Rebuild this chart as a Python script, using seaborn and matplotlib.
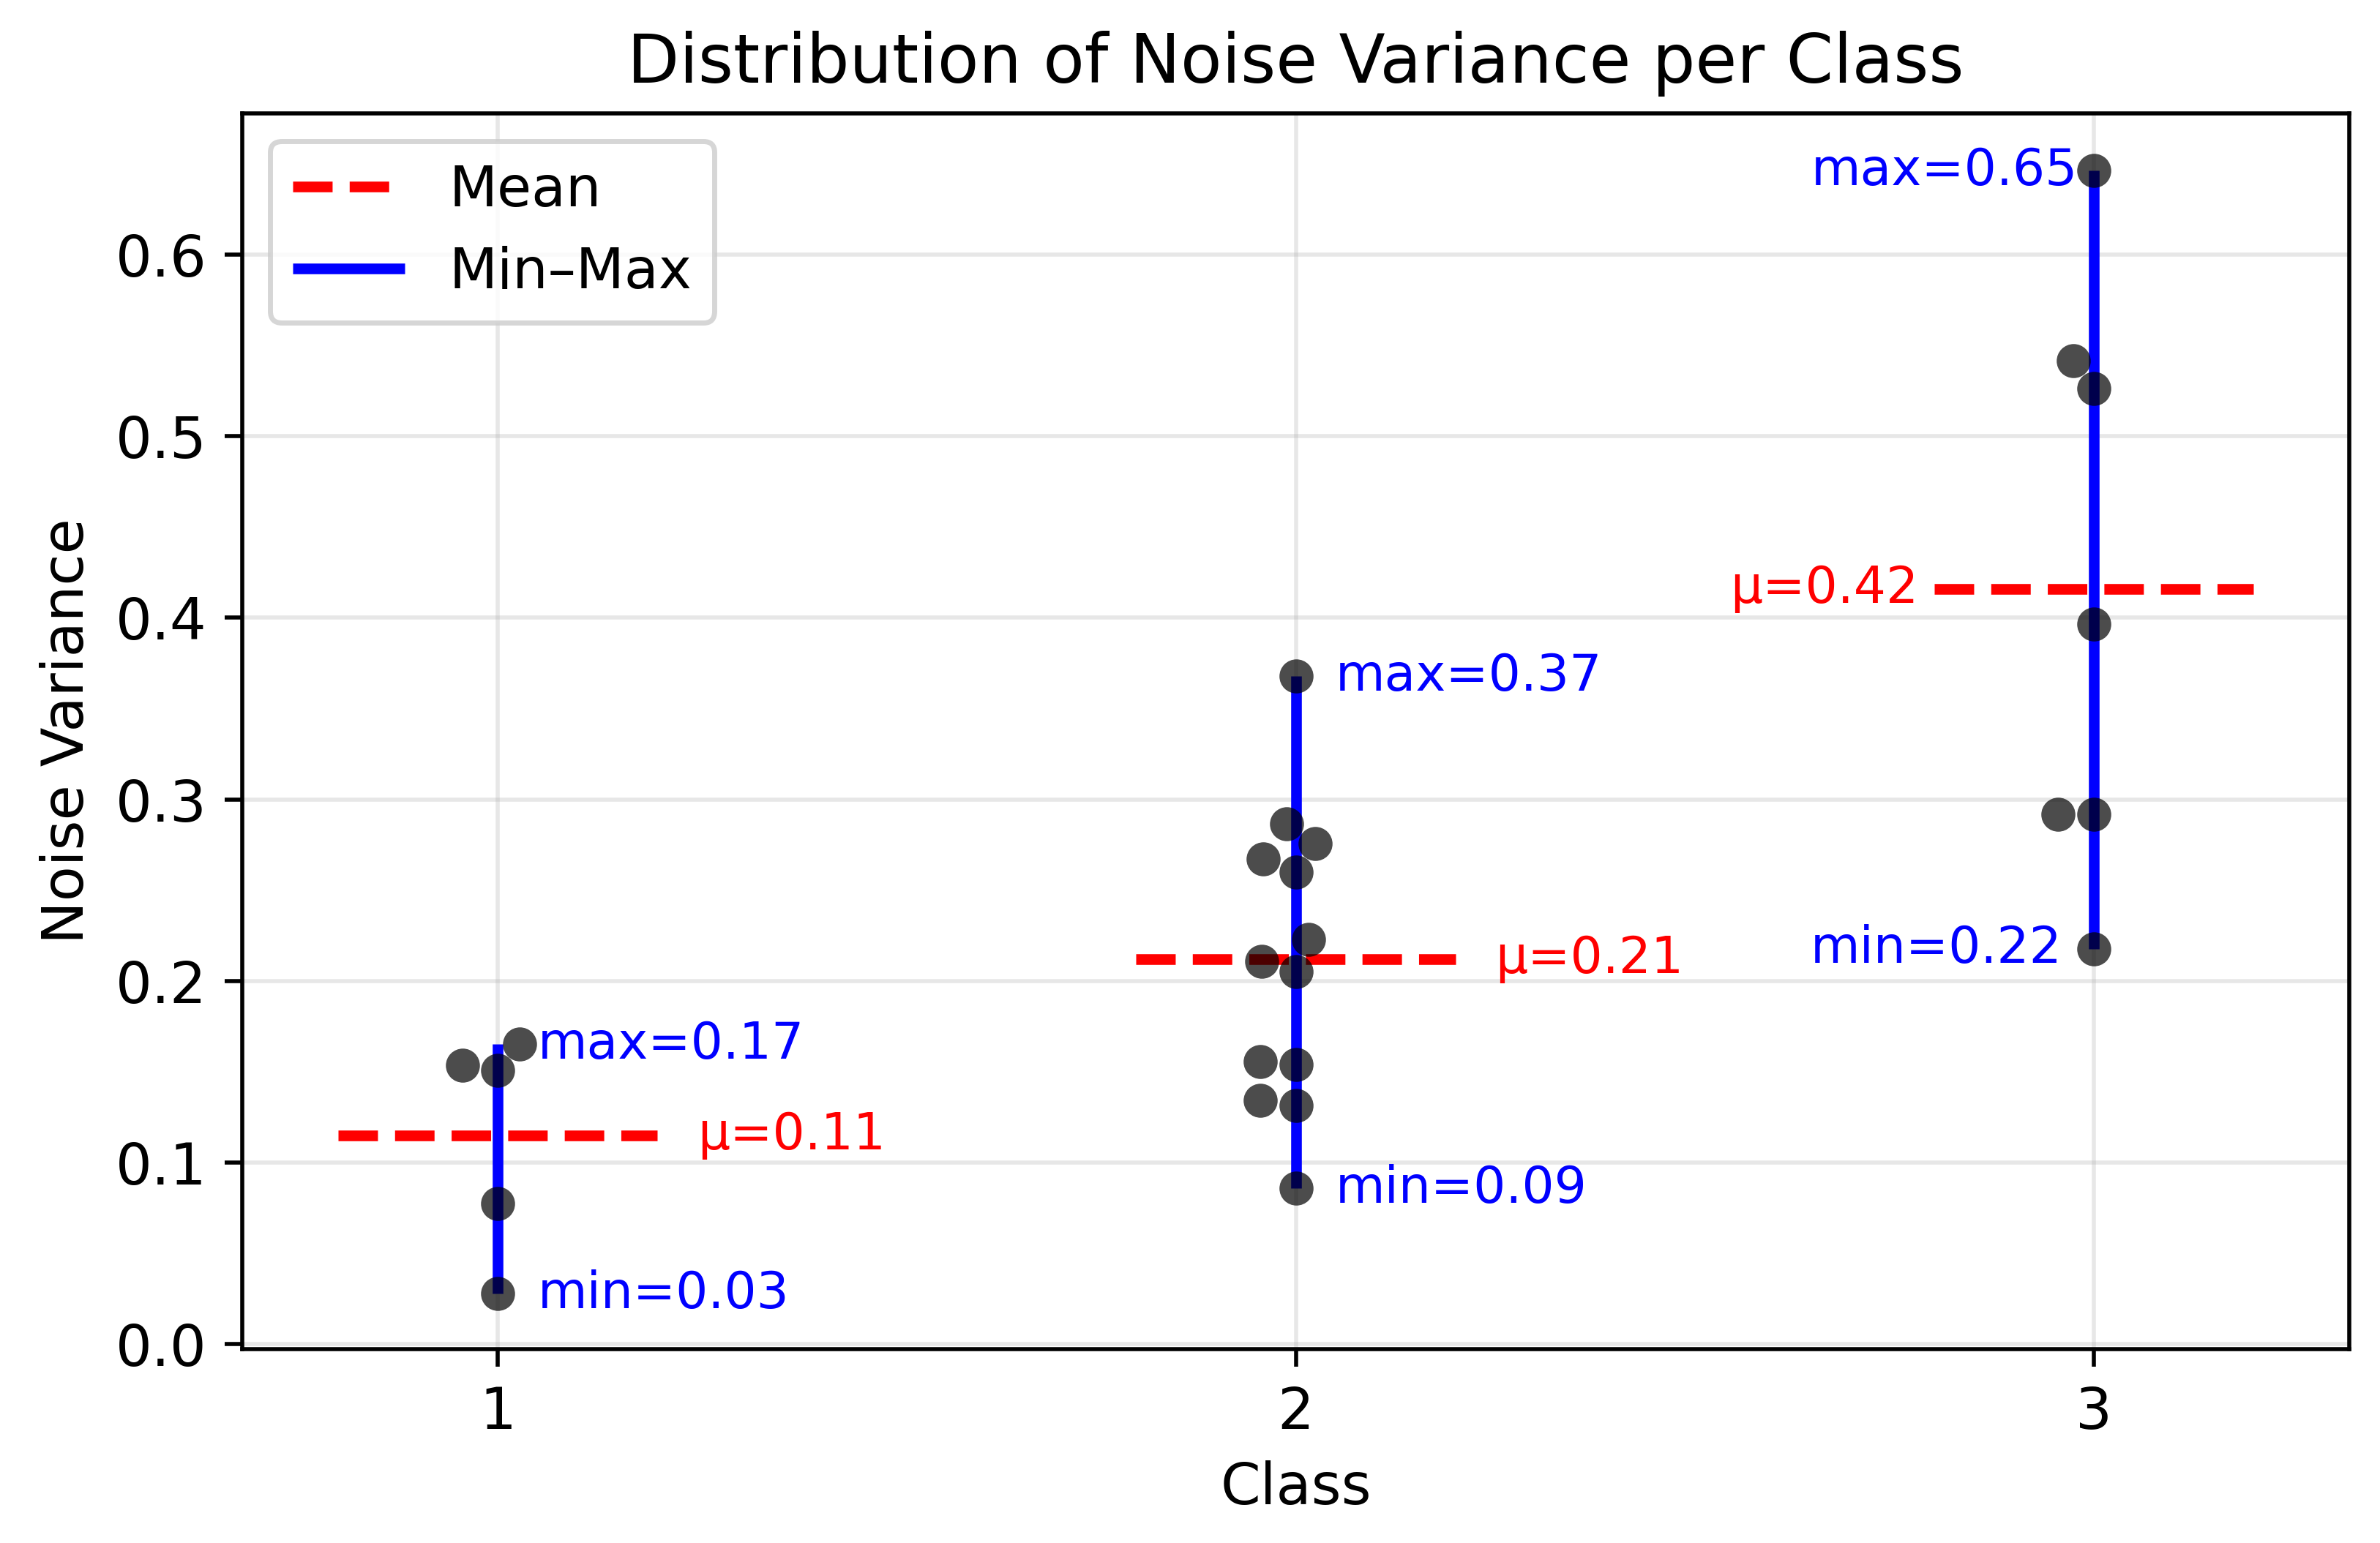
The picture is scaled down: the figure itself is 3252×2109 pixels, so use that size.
import numpy as np
import pandas as pd
import seaborn as sns
import matplotlib.pyplot as plt

# noise variance samples, one list per class
classes = [1, 2, 3]
class1_var = [0.0277, 0.0774, 0.1505, 0.1535, 0.1652]
class2_var = [0.0858, 0.1312, 0.1340, 0.1541, 0.1556, 0.2053, 0.2108,
              0.2228, 0.2599, 0.2673, 0.2756, 0.2865, 0.3678]
class3_var = [0.2176, 0.2916, 0.2919, 0.3965, 0.5263, 0.5417, 0.6463]

# label offsets (x, in data units) and alignment per class
max_dx = [0.05, 0.05, -0.02]
min_dx = [0.05, 0.05, -0.04]
mean_dx = [0.25, 0.25, -0.22]
label_ha = ['left', 'left', 'right']


def main():
    samples = [class1_var, class2_var, class3_var]
    df = pd.DataFrame({
        'cls': np.concatenate([[c] * len(v) for c, v in zip(classes, samples)]),
        'var': np.concatenate(samples),
    })

    means = np.array([np.mean(v) for v in samples])
    mins = np.array([np.min(v) for v in samples])
    maxs = np.array([np.max(v) for v in samples])
    xs = np.array(classes, dtype=float)

    fig = plt.figure(figsize=(6.504, 4.218), dpi=500)
    ax = fig.add_axes([0.1018, 0.1257, 0.8853, 0.8008])

    ax.hlines(means, xs - 0.2, xs + 0.2, colors='red', linestyles='--',
              linewidth=2.1, label='Mean')
    ax.vlines(xs, mins, maxs, colors='blue', linewidth=2.1, label='Min\u2013Max')

    ax.set_xlim(0.68, 3.32)
    ax.set_ylim(-0.0028, 0.6778)

    sns.swarmplot(data=df, x='cls', y='var', native_scale=True, color='black',
                  alpha=0.7, size=6.7, linewidth=0, zorder=3, ax=ax)

    for i, x in enumerate(xs):
        ha = label_ha[i]
        ax.text(x + max_dx[i], maxs[i], f"max={maxs[i]:.2f}", color='blue',
                fontsize=10, ha=ha, va='center')
        ax.text(x + min_dx[i], mins[i], f"min={mins[i]:.2f}", color='blue',
                fontsize=10, ha=ha, va='center')
        ax.text(x + mean_dx[i], means[i], f"\u03bc={means[i]:.2f}",
                color='red', fontsize=10, ha=ha, va='center')

    ax.set_xlim(0.68, 3.32)
    ax.set_ylim(-0.0028, 0.6778)
    ax.set_xticks(classes)
    ax.tick_params(labelsize=11.3)
    ax.grid(True, alpha=0.3)
    ax.set_xlabel('Class', fontsize=11.3)
    ax.set_ylabel('Noise Variance', fontsize=11.3)
    ax.set_title('Distribution of Noise Variance per Class', fontsize=13.3)
    ax.legend(loc='upper left', fontsize=11)

    plt.savefig('out.png', dpi=500)


if __name__ == '__main__':
    main()
